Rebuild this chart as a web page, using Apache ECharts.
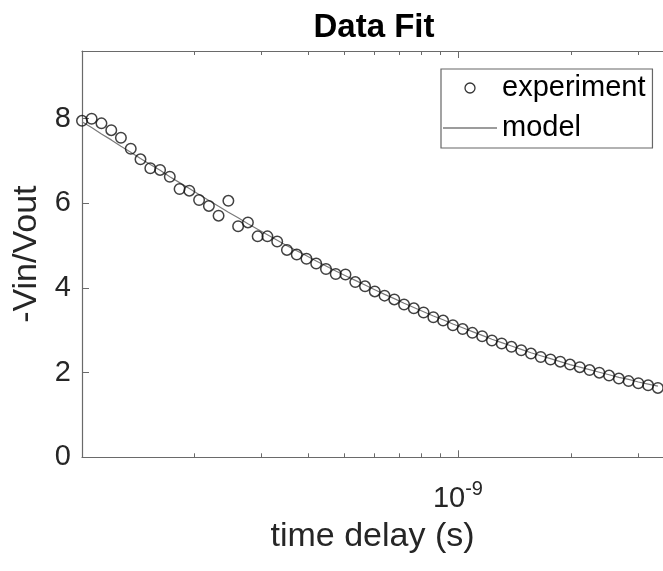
<!DOCTYPE html>
<html>
<head>
<meta charset="utf-8">
<script src="https://cdn.jsdelivr.net/npm/echarts@6/dist/echarts.min.js"></script>
<style>
  html, body { margin: 0; padding: 0; background: #fff; }
  #chart { width: 663px; height: 571px; }
</style>
</head>
<body>
<div id="chart"></div>
<script>
// time delay (s), log-spaced sample positions
const timeDelay = [
  1.006e-10, 1.067e-10, 1.133e-10, 1.203e-10, 1.276e-10, 1.355e-10, 1.438e-10, 1.527e-10, 1.621e-10, 1.720e-10,
  1.826e-10, 1.938e-10, 2.057e-10, 2.184e-10, 2.317e-10, 2.460e-10, 2.611e-10, 2.772e-10, 2.942e-10, 3.123e-10,
  3.315e-10, 3.518e-10, 3.735e-10, 3.964e-10, 4.207e-10, 4.466e-10, 4.740e-10, 5.031e-10, 5.341e-10, 5.669e-10,
  6.017e-10, 6.387e-10, 6.779e-10, 7.196e-10, 7.638e-10, 8.107e-10, 8.605e-10, 9.134e-10, 9.696e-10, 1.0292e-9,
  1.0924e-9, 1.1595e-9, 1.2308e-9, 1.3064e-9, 1.3868e-9, 1.4720e-9, 1.5624e-9, 1.6584e-9, 1.7604e-9, 1.8685e-9,
  1.9834e-9, 2.1053e-9, 2.2346e-9, 2.3720e-9, 2.5177e-9, 2.6725e-9, 2.8367e-9, 3.0110e-9, 3.1961e-9, 3.3925e-9
];
// measured -Vin/Vout
const experiment = [
  7.95, 8.00, 7.89, 7.73, 7.55, 7.29, 7.04, 6.83, 6.79, 6.63,
  6.34, 6.30, 6.08, 5.94, 5.71, 6.06, 5.46, 5.55, 5.22, 5.22,
  5.10, 4.90, 4.79, 4.69, 4.58, 4.45, 4.33, 4.32, 4.14, 4.04,
  3.92, 3.82, 3.73, 3.61, 3.52, 3.42, 3.31, 3.23, 3.12, 3.03,
  2.94, 2.86, 2.76, 2.69, 2.61, 2.53, 2.45, 2.37, 2.31, 2.26,
  2.19, 2.13, 2.06, 2.00, 1.93, 1.86, 1.80, 1.75, 1.70, 1.64
];
// fitted model
const model = [
  7.93, 7.79, 7.64, 7.50, 7.35, 7.21, 7.06, 6.92, 6.78, 6.63,
  6.49, 6.35, 6.21, 6.07, 5.93, 5.79, 5.66, 5.52, 5.39, 5.26,
  5.13, 5.00, 4.88, 4.76, 4.64, 4.52, 4.40, 4.29, 4.18, 4.07,
  3.96, 3.85, 3.75, 3.64, 3.54, 3.44, 3.34, 3.25, 3.15, 3.06,
  2.97, 2.88, 2.79, 2.71, 2.63, 2.55, 2.47, 2.40, 2.33, 2.26,
  2.19, 2.13, 2.07, 2.01, 1.95, 1.89, 1.84, 1.78, 1.73, 1.68
];
const xMajorTicks = [1e-9];
const xMinorTicks = [2e-10, 3e-10, 4e-10, 5e-10, 6e-10, 7e-10, 8e-10, 9e-10, 2e-9, 3e-9];
const yTicks = [0, 2, 4, 6, 8];
const xMin = 1.006e-10, xMax = 3.5e-9;
const yMin = 0, yMax = 9.6;

const FONT = 'Liberation Sans, Arial, Helvetica, sans-serif';
const AXIS_COLOR = '#6a6a6a';
const TEXT_COLOR = '#262626';
const MODEL_COLOR = '#7a7a7a';

const chart = echarts.init(document.getElementById('chart'), null, { renderer: 'canvas' });

function xAxisBase(extra) {
  return Object.assign({
    type: 'log', logBase: 10, min: xMin, max: xMax, gridIndex: 0,
    splitLine: { show: false }, minorTick: { show: false }, minorSplitLine: { show: false },
    axisLine: { show: false, onZero: false, lineStyle: { color: AXIS_COLOR, width: 1.2 } },
    axisLabel: { show: false },
    axisTick: { show: false }
  }, extra);
}

const option = {
  animation: false,
  backgroundColor: '#fff',
  textStyle: { fontFamily: FONT },
  title: {
    text: 'Data Fit',
    left: 374, top: 11, padding: 0,
    textAlign: 'center',
    textStyle: { fontFamily: FONT, fontSize: 33, fontWeight: 'bold', color: '#000' }
  },
  grid: { left: 82, top: 51, width: 583, height: 406.3, containLabel: false },
  legend: {
    orient: 'vertical',
    left: 441, top: 69,
    padding: [4, 7, 5, 2],
    itemGap: 10,
    itemWidth: 54, itemHeight: 10,
    borderColor: '#666', borderWidth: 1.2,
    backgroundColor: '#fff',
    textStyle: { fontFamily: FONT, fontSize: 29, color: '#000', lineHeight: 30 },
    data: [
      { name: 'experiment', icon: 'circle', itemStyle: { color: '#fff', borderColor: '#000', borderWidth: 1.3 } },
      { name: 'model', icon: 'path://M0,0L54,0L54,1.2L0,1.2Z', itemStyle: { color: '#3a3a3a', borderWidth: 0 } }
    ]
  },
  xAxis: [
    xAxisBase({
      position: 'bottom',
      name: 'time delay (s)', nameLocation: 'middle', nameGap: 62,
      nameTextStyle: { fontFamily: FONT, fontSize: 34, color: TEXT_COLOR },
      axisLine: { show: true, onZero: false, lineStyle: { color: AXIS_COLOR, width: 1.2 } },
      axisTick: { show: true, inside: true, length: 7, customValues: xMajorTicks, lineStyle: { color: AXIS_COLOR } },
      axisLabel: {
        show: true, customValues: xMajorTicks, margin: 22,
        formatter: function () { return '{a|10}{b|-9}'; },
        rich: {
          a: { fontFamily: FONT, fontSize: 29, color: TEXT_COLOR, verticalAlign: 'bottom', lineHeight: 34 },
          b: { fontFamily: FONT, fontSize: 20, color: TEXT_COLOR, verticalAlign: 'top', lineHeight: 34 }
        }
      }
    }),
    xAxisBase({
      position: 'bottom',
      axisTick: { show: true, inside: true, length: 4, customValues: xMinorTicks, lineStyle: { color: AXIS_COLOR } }
    }),
    xAxisBase({
      position: 'top',
      axisLine: { show: true, onZero: false, lineStyle: { color: AXIS_COLOR, width: 1.2 } },
      axisTick: { show: true, inside: true, length: 7, customValues: xMajorTicks, lineStyle: { color: AXIS_COLOR } }
    }),
    xAxisBase({
      position: 'top',
      axisTick: { show: true, inside: true, length: 4, customValues: xMinorTicks, lineStyle: { color: AXIS_COLOR } }
    })
  ],
  yAxis: [{
    type: 'value', min: yMin, max: yMax, position: 'left',
    name: '-Vin/Vout', nameLocation: 'middle', nameRotate: 90, nameGap: 36,
    nameTextStyle: { fontFamily: FONT, fontSize: 34, color: TEXT_COLOR },
    splitLine: { show: false },
    axisLine: { show: true, onZero: false, lineStyle: { color: AXIS_COLOR, width: 1.2 } },
    axisTick: { show: true, inside: true, length: 7, customValues: yTicks, lineStyle: { color: AXIS_COLOR } },
    axisLabel: { show: true, customValues: yTicks, margin: 11, fontFamily: FONT, fontSize: 29, color: TEXT_COLOR }
  }],
  series: [
    {
      name: 'model', type: 'line', xAxisIndex: 0, yAxisIndex: 0,
      data: timeDelay.map((t, i) => [t, model[i]]),
      showSymbol: false, symbol: 'none', smooth: false,
      lineStyle: { color: MODEL_COLOR, width: 1.2 },
      itemStyle: { color: MODEL_COLOR },
      z: 2
    },
    {
      name: 'experiment', type: 'scatter', xAxisIndex: 0, yAxisIndex: 0,
      data: timeDelay.map((t, i) => [t, experiment[i]]),
      symbol: 'circle', symbolSize: 10.5,
      itemStyle: { color: 'rgba(255,255,255,0)', borderColor: '#111', borderWidth: 1.5 },
      z: 3
    }
  ]
};
chart.setOption(option);
</script>
</body>
</html>
